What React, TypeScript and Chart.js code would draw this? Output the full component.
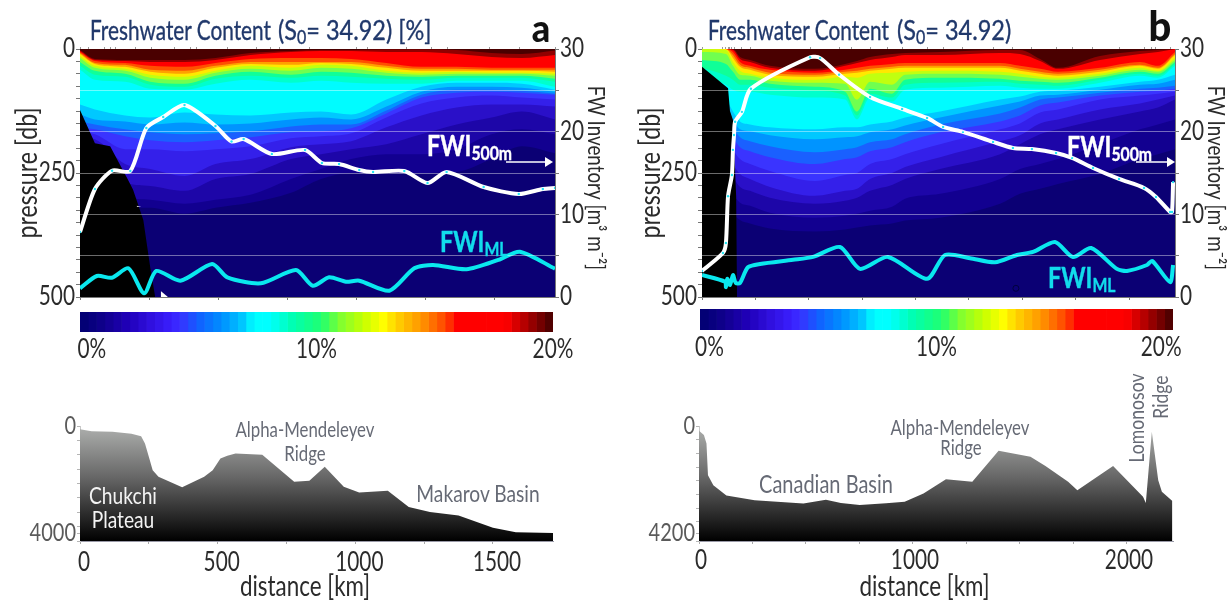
import React, { useEffect, useRef } from "react";
import { Chart, registerables } from "chart.js";

Chart.register(...registerables);

const FONT = "Lato,'Open Sans',sans-serif";
const NARROW = 0.8;
const TICK = "#2b2b2b";
const AXIS = "#777777";

/* ---------- panel a: stations, isopleth depths [db], FW inventories ---------- */
const aMaxKm = 1718;
const aStationsKm = [0, 54, 163, 254, 378, 490, 617, 763, 872, 981, 1108, 1235, 1362, 1489, 1598, 1718];
const aTopTicksKm = [0, 30, 90, 110, 130, 200, 260, 340, 400, 420, 535, 640, 690, 720, 830, 1000, 1040, 1180, 1270, 1330, 1480, 1590, 1718];
const aD1 = [2, 20, 22, 22, 22, 18, 8, 4, 2, 2, 1, 1, 2, 8, 10, 3];
const aD2 = [4, 22, 24, 26, 26, 22, 12, 6, 4, 4, 6, 6, 10, 16, 18, 12];
const aD3 = [6, 24, 28, 34, 36, 28, 20, 18, 18, 20, 28, 36, 36, 38, 38, 38];
const aD4 = [8, 28, 32, 42, 44, 34, 26, 26, 26, 26, 34, 40, 40, 42, 42, 42];
const aD5 = [10, 30, 36, 46, 50, 38, 30, 32, 28, 30, 38, 44, 44, 44, 44, 46];
const aD6 = [14, 34, 40, 52, 56, 44, 34, 38, 32, 34, 44, 48, 46, 48, 48, 50];
const aD7 = [18, 38, 44, 58, 62, 48, 40, 44, 38, 40, 48, 52, 50, 50, 50, 54];
const aD8 = [26, 44, 50, 66, 70, 54, 46, 52, 46, 48, 54, 56, 54, 54, 54, 60];
const aD9 = [34, 52, 56, 72, 76, 60, 54, 58, 54, 56, 60, 62, 58, 58, 58, 66];
const aD10 = [42, 62, 66, 80, 82, 70, 62, 68, 64, 68, 70, 70, 64, 64, 64, 76];
const aD11 = [112, 122, 134, 138, 128, 132, 134, 128, 126, 132, 102, 76, 68, 68, 70, 82];
const aD12 = [132, 142, 146, 152, 148, 152, 150, 142, 138, 142, 116, 86, 76, 76, 78, 86];
const aD13 = [146, 152, 162, 168, 172, 170, 166, 156, 152, 152, 124, 92, 82, 82, 84, 90];
const aD14 = [158, 162, 176, 184, 188, 184, 178, 168, 166, 160, 130, 98, 88, 86, 88, 92];
const aD15 = [168, 172, 202, 202, 206, 202, 196, 180, 176, 170, 138, 110, 98, 94, 98, 102];
const aD16 = [178, 182, 232, 242, 256, 232, 222, 198, 192, 186, 158, 134, 118, 112, 112, 116];
const aD17 = [182, 192, 268, 276, 286, 262, 252, 222, 212, 202, 192, 172, 152, 138, 126, 142];
const aD18 = [192, 202, 296, 304, 312, 304, 294, 262, 242, 222, 212, 212, 202, 172, 162, 172];
const aD19 = [202, 212, 320, 320, 332, 320, 310, 290, 262, 250, 250, 250, 248, 222, 196, 210];
const aTerrainKm = [0, 54, 109, 174, 192, 229, 254, 272];
const aTerrainDb = [123, 190, 196, 264, 284, 345, 440, 500];
const aFwi500Km = [0, 54, 116, 182, 240, 301, 378, 490, 548, 592, 694, 814, 875, 937, 1010, 1060, 1173, 1257, 1326, 1460, 1587, 1674, 1718];
const aFwi500 = [7.86, 13.07, 15.28, 15.24, 20.44, 21.77, 23.23, 20.69, 18.81, 19.11, 17.3, 17.78, 16.21, 16.09, 15.36, 15.12, 15.24, 13.79, 15.12, 13.31, 12.46, 13.07, 13.19];
const aFwiMlKm = [0, 61, 115, 175, 232, 276, 363, 478, 533, 654, 781, 842, 901, 962, 1010, 1119, 1209, 1277, 1398, 1513, 1591, 1718];
const aFwiMl = [1.05, 2.54, 2.33, 3.47, 0.45, 3.15, 1.97, 3.99, 2.38, 1.66, 3.27, 1.37, 2.38, 1.85, 1.97, 0.76, 3.47, 3.87, 3.35, 4.48, 5.48, 3.42];
const aBathyKm = [0, 42, 118, 187, 222, 236, 250, 264, 285, 326, 371, 451, 482, 510, 535, 565, 662, 778, 833, 889, 958, 1014, 1118, 1194, 1271, 1375, 1500, 1583, 1718];
const aBathyM = [116, 186, 198, 267, 360, 605, 1070, 1535, 1767, 1942, 2128, 1767, 1535, 1128, 1035, 953, 1000, 1942, 1907, 1419, 2116, 2314, 2256, 2814, 2988, 3116, 3535, 3698, 3721];

/* ---------- panel b ---------- */
const bMaxKm = 2215;
const bStationsKm = [0, 112, 145, 178, 225, 318, 529, 670, 726, 787, 890, 951, 1115, 1396, 1489, 1583, 1667, 1864, 2051, 2135, 2215];
const bTopTicksKm = [0, 98, 112, 122, 131, 140, 150, 187, 229, 506, 642, 700, 787, 870, 937, 1054, 1129, 1222, 1363, 1456, 1545, 1658, 1733, 1831, 1953, 2070, 2105, 2126, 2192];
const bD1 = [0, 0, 0, 16, 22, 34, 40, 30, 24, 16, 10, 8, 6, 2, 2, 20, 38, 14, 4, 2, 0];
const bD2 = [0, 0, 2, 20, 26, 38, 44, 34, 28, 22, 16, 12, 12, 8, 10, 24, 40, 22, 10, 6, 0];
const bD3 = [0, 0, 6, 26, 34, 42, 48, 42, 38, 34, 30, 28, 28, 28, 34, 40, 46, 38, 26, 34, 6];
const bD4 = [0, 0, 12, 32, 38, 48, 52, 46, 44, 40, 36, 34, 34, 34, 40, 46, 50, 42, 32, 38, 10];
const bD5 = [0, 0, 18, 36, 42, 52, 56, 50, 48, 44, 40, 38, 38, 38, 44, 50, 54, 46, 34, 40, 12];
const bD6 = [0, 2, 26, 44, 50, 58, 62, 56, 58, 50, 48, 46, 44, 46, 50, 56, 58, 50, 38, 44, 18];
const bD7 = [6, 10, 34, 52, 54, 64, 68, 70, 102, 66, 72, 52, 50, 52, 56, 60, 62, 54, 42, 46, 22];
const bD8 = [22, 30, 46, 62, 62, 70, 76, 86, 126, 80, 90, 62, 58, 60, 64, 66, 68, 58, 46, 50, 26];
const bD9 = [38, 54, 62, 72, 72, 78, 84, 94, 134, 90, 98, 72, 68, 66, 70, 72, 74, 62, 50, 54, 30];
const bD10 = [52, 72, 82, 86, 86, 92, 98, 102, 142, 98, 106, 82, 78, 74, 78, 80, 80, 68, 54, 58, 34];
const bD11 = [82, 102, 126, 146, 152, 158, 162, 158, 158, 152, 146, 138, 126, 102, 96, 86, 84, 76, 66, 62, 52];
const bD12 = [102, 118, 142, 162, 166, 174, 182, 178, 176, 168, 162, 154, 138, 114, 106, 94, 92, 82, 72, 70, 62];
const bD13 = [122, 132, 158, 178, 186, 196, 208, 202, 198, 188, 182, 172, 152, 130, 118, 102, 98, 88, 80, 78, 74];
const bD14 = [142, 152, 178, 198, 206, 218, 232, 222, 218, 206, 198, 188, 168, 146, 134, 114, 108, 94, 86, 84, 80];
const bD15 = [162, 172, 202, 222, 232, 246, 266, 254, 250, 232, 222, 212, 192, 162, 150, 128, 122, 102, 94, 90, 86];
const bD16 = [192, 202, 232, 252, 262, 278, 296, 286, 282, 262, 250, 238, 218, 186, 174, 150, 142, 122, 110, 102, 94];
const bD17 = [222, 232, 258, 278, 286, 300, 312, 306, 300, 286, 274, 262, 242, 212, 192, 172, 162, 142, 126, 118, 102];
const bD18 = [252, 262, 292, 310, 316, 330, 340, 336, 332, 326, 318, 302, 292, 262, 242, 232, 222, 192, 162, 152, 142];
const bD19 = [292, 302, 330, 345, 352, 362, 368, 364, 360, 356, 352, 346, 340, 312, 292, 282, 272, 252, 222, 212, 202];
const bTerrainKm = [0, 122, 131, 145, 160, 164];
const bTerrainDb = [36, 79, 125, 143, 298, 500];
const bFwi500Km = [0, 98, 112, 122, 140, 145, 150, 155, 187, 229, 506, 553, 642, 787, 937, 1054, 1129, 1222, 1363, 1456, 1545, 1658, 1733, 1831, 1953, 2070, 2126, 2192, 2201, 2206];
const bFwi500 = [3.15, 5.32, 6.53, 12.2, 14.76, 17.8, 19.6, 21.2, 22.4, 25.2, 29.0, 28.9, 26.9, 24.2, 22.75, 21.66, 20.57, 19.97, 18.76, 18.03, 17.9, 17.42, 16.82, 15.61, 14.28, 13.19, 12.1, 10.29, 10.29, 13.9];
const bFwiMlKm = [0, 108, 112, 118, 131, 145, 158, 178, 215, 272, 426, 520, 646, 740, 871, 1054, 1138, 1255, 1372, 1475, 1550, 1653, 1737, 1822, 1943, 1990, 2084, 2108, 2192, 2206];
const bFwiMl = [2.66, 1.85, 1.2, 2.2, 1.45, 2.66, 1.7, 1.7, 3.6, 4.0, 4.5, 4.85, 6.05, 3.4, 4.85, 2.2, 5.08, 4.7, 4.2, 5.08, 5.45, 6.66, 4.84, 5.93, 3.4, 3.15, 3.87, 4.36, 1.8, 3.87];
const bBathyKm = [0, 23, 35, 42, 67, 128, 260, 330, 488, 593, 663, 751, 874, 961, 1049, 1154, 1277, 1400, 1549, 1619, 1725, 1768, 1935, 2075, 2088, 2116, 2146, 2163, 2212];
const bBathyM = [171, 330, 635, 1795, 2161, 2540, 2710, 2747, 2833, 2698, 2808, 2881, 2820, 2771, 2466, 1941, 2039, 903, 1123, 1465, 2039, 2344, 1465, 2588, 2808, 208, 1978, 2405, 2735];

/* ---------- colours ---------- */
const bandColours = ["#4a0000", "#900000", "#ff0000", "#ff5000", "#ffa000", "#ffe800", "#c0ff10", "#70ff50", "#10ff98", "#00ffcc", "#00fcff", "#00c8ff", "#0094ff", "#1a60ff", "#3a34ff", "#3420ea", "#2a10c8", "#1d06a8", "#120090"];
const baseColour = "#0b0074";
const aDepths = [aD1, aD2, aD3, aD4, aD5, aD6, aD7, aD8, aD9, aD10, aD11, aD12, aD13, aD14, aD15, aD16, aD17, aD18, aD19];
const bDepths = [bD1, bD2, bD3, bD4, bD5, bD6, bD7, bD8, bD9, bD10, bD11, bD12, bD13, bD14, bD15, bD16, bD17, bD18, bD19];

const colourbarSteps = 57;
const colourStops: [number, string][] = [
  [0, "#000070"], [1, "#10008c"], [2, "#2000b8"], [3, "#3010e0"], [3.9, "#3a20ff"], [4.2, "#3a30ff"],
  [5, "#1060ff"], [6, "#0090ff"], [7, "#00d0ff"], [7.3, "#00ffff"], [8, "#00ffff"], [9, "#00ffb0"],
  [10.2, "#20ff70"], [11, "#80ff30"], [12, "#c8ff00"], [12.8, "#ffff00"], [13.4, "#ffd000"], [14.5, "#ff9000"],
  [15.5, "#ff4000"], [15.9, "#ff0000"], [18, "#ff0000"], [19, "#a00000"], [20, "#400000"],
];

function stopColour(v: number) {
  let i = 0;
  while (i < colourStops.length - 2 && colourStops[i + 1][0] < v) i++;
  const [v0, c0] = colourStops[i];
  const [v1, c1] = colourStops[i + 1];
  const t = Math.min(1, Math.max(0, (v - v0) / (v1 - v0)));
  const ch = (c: string, k: number) => parseInt(c.slice(1 + k * 2, 3 + k * 2), 16);
  const mix = (k: number) => Math.round(ch(c0, k) + (ch(c1, k) - ch(c0, k)) * t);
  return `rgb(${mix(0)},${mix(1)},${mix(2)})`;
}

const xy = (xs: number[], ys: number[]) => xs.map((x, i) => ({ x, y: ys[i] }));
const font = (size: number) => ({ family: FONT, size });

function section(opts: any) {
  const { maxKm, stations, depths, terrainKm, terrainDb, fwi500Km, fwi500, fwiMlKm, fwiMl, topTicks, extras, leftW, rightW, titlePadL, titlePadR } = opts;
  const overlay = [
    { data: xy(fwi500Km, fwi500), yAxisID: "yR", borderColor: "#ffffff", borderWidth: 4, tension: 0.25, pointRadius: 1.2, pointBackgroundColor: "#25e6f5", pointBorderWidth: 0, fill: false },
    { data: xy(fwiMlKm, fwiMl), yAxisID: "yR", borderColor: "#0ae8ee", borderWidth: 4, tension: 0.25, pointRadius: 0, fill: false },
    ...extras,
    { data: xy(terrainKm, terrainDb), yAxisID: "y", borderWidth: 0, pointRadius: 0, backgroundColor: "#000000", fill: { value: 500 } },
  ];
  const bands = depths.map((d: number[], i: number) => ({
    data: xy(stations, d), yAxisID: "y", borderWidth: 0, pointRadius: 0, cubicInterpolationMode: "monotone",
    backgroundColor: bandColours[i], fill: { value: 0 },
  }));
  const base = { data: xy([0, maxKm], [500, 500]), yAxisID: "y", borderWidth: 0, pointRadius: 0, backgroundColor: baseColour, fill: { value: 0 } };
  return {
    type: "line",
    data: { datasets: [...overlay, ...bands, base] },
    options: {
      responsive: false, animation: false, devicePixelRatio: 1,
      layout: { padding: 0 },
      plugins: { legend: { display: false }, tooltip: { enabled: false } },
      scales: {
        x: {
          type: "linear", position: "bottom", min: 0, max: maxKm,
          afterBuildTicks: (s: any) => { s.ticks = [0, 250, 500, 750, 1000, 1250, 1500, 1750, 2000].filter((v) => v <= maxKm).map((value) => ({ value })); },
          afterFit: (s: any) => { s.height = 24; },
          ticks: { display: false, autoSkip: false },
          grid: { drawOnChartArea: false, tickLength: 3, color: AXIS },
          border: { color: AXIS },
        },
        xTop: {
          type: "linear", axis: "x", position: "top", min: 0, max: maxKm,
          afterBuildTicks: (s: any) => { s.ticks = topTicks.map((value: number) => ({ value })); },
          afterFit: (s: any) => { s.height = 29; },
          ticks: { display: false, autoSkip: false },
          grid: { drawOnChartArea: false, tickLength: 2, color: "#999999" },
          border: { color: "#8a4040" },
        },
        y: {
          type: "linear", position: "left", reverse: true, min: 0, max: 500,
          afterFit: (s: any) => { s.width = leftW; },
          ticks: { stepSize: 25, autoSkip: false, padding: 1, color: TICK, font: font(26), callback: (v: number) => (v % 250 === 0 ? String(v) : "") },
          grid: { drawOnChartArea: false, tickLength: 4, color: AXIS },
          border: { color: AXIS },
          title: { display: true, text: "pressure [db]", color: TICK, font: font(29), padding: { top: titlePadL, bottom: 0 } },
        },
        yR: {
          type: "linear", axis: "y", position: "right", min: 0, max: 30,
          afterFit: (s: any) => { s.width = rightW; },
          ticks: { stepSize: 5, autoSkip: false, padding: 1, color: TICK, font: font(26), callback: (v: number) => (v % 10 === 0 ? String(v) : "") },
          grid: { z: 1, tickLength: 4, tickColor: AXIS, color: (c: any) => (c.tick && (c.tick.value === 0 || c.tick.value === 30) ? "rgba(0,0,0,0)" : "rgba(255,255,255,0.42)") },
          border: { color: AXIS, z: 1 },
          title: { display: true, text: "\u00A0\u00A0FW Inventory [m\u00B3 m\u207B\u00B2]", color: TICK, font: font(23.5), padding: { top: titlePadR, bottom: 0 } },
        },
      },
    },
  };
}

function colourbar(tickValues: number[], padL: number, padR: number, padT: number) {
  const step = 20 / colourbarSteps;
  const colours = Array.from({ length: colourbarSteps }, (_, i) => stopColour((i + 0.5) * step));
  return {
    type: "bar",
    data: {
      labels: ["FW"],
      datasets: colours.map((c) => ({ data: [step], backgroundColor: c, borderWidth: 0, barPercentage: 1, categoryPercentage: 1 })),
    },
    options: {
      indexAxis: "y", responsive: false, animation: false, devicePixelRatio: 1,
      layout: { padding: { left: padL, right: padR, top: padT, bottom: 0 } },
      plugins: { legend: { display: false }, tooltip: { enabled: false } },
      scales: {
        y: { display: false, stacked: true },
        x: {
          type: "linear", stacked: true, min: 0, max: 20,
          afterBuildTicks: (s: any) => { s.ticks = tickValues.map((value) => ({ value })); },
          afterFit: (s: any) => { s.height = 36; },
          ticks: { autoSkip: false, maxRotation: 0, padding: 2, color: TICK, font: font(26), callback: (v: number) => `${Math.round(v / 10) * 10}%` },
          grid: { display: false, drawTicks: false },
          border: { display: false },
        },
      },
    },
  };
}

function bathy(opts: any) {
  const { km, m, maxKm, maxM, ticks, yTicks, yLabelAt, padR, xTitle, titlePad, tickPad, labelOffset } = opts;
  return {
    type: "line",
    data: {
      datasets: [{
        data: xy(km, m), borderWidth: 0, pointRadius: 0, fill: { value: maxM },
        backgroundColor: (c: any) => {
          const area = c.chart.chartArea;
          if (!area) return "#555555";
          const g = c.chart.ctx.createLinearGradient(0, area.top, 0, area.bottom);
          g.addColorStop(0, "#aeb0ae");
          g.addColorStop(0.45, "#666666");
          g.addColorStop(1, "#000000");
          return g;
        },
      }],
    },
    options: {
      responsive: false, animation: false, devicePixelRatio: 1,
      layout: { padding: { top: 26, right: padR, left: 0, bottom: 0 } },
      plugins: { legend: { display: false }, tooltip: { enabled: false } },
      scales: {
        x: {
          type: "linear", min: 0, max: maxKm,
          afterBuildTicks: (s: any) => { s.ticks = ticks.map((value: number) => ({ value })); },
          afterFit: (s: any) => { s.height = 63; },
          ticks: { autoSkip: false, maxRotation: 0, padding: tickPad, labelOffset, color: TICK, font: font(26), callback: (v: number) => (v % opts.labelEvery === 0 ? String(v) : "") },
          grid: { drawOnChartArea: false, tickLength: 3, color: "#aaaaaa" },
          border: { color: "#9a9aa8" },
          title: { display: true, text: xTitle, color: TICK, font: font(28), padding: { top: titlePad, bottom: 0 } },
        },
        y: {
          type: "linear", reverse: true, min: 0, max: maxM,
          afterFit: (s: any) => { s.width = 80; },
          afterBuildTicks: (s: any) => { s.ticks = yTicks.map((value: number) => ({ value })); },
          ticks: { autoSkip: false, padding: 1, color: "#5a5a5a", font: font(25), callback: (v: number) => (v === 0 ? "0" : v === yLabelAt ? String(maxM) : "") },
          grid: { drawOnChartArea: false, tickLength: 3, color: "#b5b5b5" },
          border: { color: "#c8c8c8" },
        },
      },
    },
  };
}

function Plot({ make, left, top, width, height, blur }: any) {
  const ref = useRef<HTMLCanvasElement>(null);
  useEffect(() => {
    const canvas = ref.current as HTMLCanvasElement;
    const ctx: any = canvas.getContext("2d");
    // the reference uses a condensed face, and no condensed face is installed
    const fill = ctx.fillText.bind(ctx);
    ctx.fillText = (t: string, x: number, y: number) => {
      ctx.save();
      ctx.translate(x, y);
      ctx.scale(NARROW, 1);
      fill(t, 0, 0);
      ctx.restore();
    };
    const chart = new Chart(canvas as any, make());
    return () => chart.destroy();
  }, []);
  return <canvas ref={ref} width={width} height={height} style={{ position: "absolute", left, top, width, height, display: "block", filter: blur ? "blur(0.5px)" : undefined }} />;
}

function Text({ x, y, size = 26, color = TICK, weight = 400, stroke = 0, family = FONT, rotate = 0, sx = NARROW, anchor = "center", children }: any) {
  const tx = anchor === "center" ? "-50%" : "0";
  return (
    <div style={{ position: "absolute", left: x, top: y, fontFamily: family, fontSize: size, color, fontWeight: weight, WebkitTextStroke: stroke ? `${stroke}px ${color}` : undefined, whiteSpace: "nowrap", lineHeight: 1, transform: `translate(${tx},-50%) rotate(${rotate}deg) scaleX(${sx})`, transformOrigin: anchor === "center" ? "center" : "left center" }}>
      {children}
    </div>
  );
}

const subStyle: any = { fontSize: "0.68em", verticalAlign: "-0.22em", lineHeight: 0 };
const NAVY = "#20386b";
const GREY = "#666a75";
const CYAN = "#12dcec";

function Arrow({ x1, x2, y }: any) {
  return (
    <svg style={{ position: "absolute", left: x1, top: y - 6, width: x2 - x1, height: 12 }}>
      <line x1={0} y1={6} x2={x2 - x1 - 6} y2={6} stroke="#fff" strokeWidth={1.6} />
      <polygon points={`${x2 - x1 - 8},1 ${x2 - x1},6 ${x2 - x1 - 8},11`} fill="#fff" />
    </svg>
  );
}

const aExtras = [
  { data: xy([292, 292, 318], [500, 488, 500]), yAxisID: "y", borderWidth: 0, pointRadius: 0, backgroundColor: "#ffffff", fill: { value: 500 } },
  { data: xy([205, 205, 222], [304, 316, 318]), yAxisID: "y", borderWidth: 0, pointRadius: 0, backgroundColor: "#ffffff", fill: { value: 318 } },
];
const bExtras = [
  { data: xy([1470], [1.05]), yAxisID: "yR", showLine: false, pointRadius: 3, pointBackgroundColor: "rgba(0,0,0,0)", pointBorderColor: "#000040", pointBorderWidth: 1, fill: false },
];

export default function App() {
  return (
    <div style={{ position: "absolute", left: 0, top: 0, width: 1232, height: 604, overflow: "hidden", background: "#fff" }}>
      <Plot left={0} top={20} width={613} height={301} blur make={() => section({ maxKm: aMaxKm, stations: aStationsKm, depths: aDepths, terrainKm: aTerrainKm, terrainDb: aTerrainDb, fwi500Km: aFwi500Km, fwi500: aFwi500, fwiMlKm: aFwiMlKm, fwiMl: aFwiMl, topTicks: aTopTicksKm, extras: aExtras, leftW: 80, rightW: 58, titlePadL: 10, titlePadR: 3 })} />
      <Plot left={622} top={20} width={610} height={301} blur make={() => section({ maxKm: bMaxKm, stations: bStationsKm, depths: bDepths, terrainKm: bTerrainKm, terrainDb: bTerrainDb, fwi500Km: bFwi500Km, fwi500: bFwi500, fwiMlKm: bFwiMlKm, fwiMl: bFwiMl, topTicks: bTopTicksKm, extras: bExtras, leftW: 80, rightW: 57, titlePadL: 11, titlePadR: 2 })} />
      <Plot left={20} top={305} width={600} height={63} blur make={() => colourbar([0.5, 10, 20], 60, 67, 7)} />
      <Plot left={640} top={302} width={592} height={64} blur make={() => colourbar([0.4, 10, 19.5], 60, 59, 7)} />
      <Plot left={0} top={400} width={620} height={204} blur make={() => bathy({ km: aBathyKm, m: aBathyM, maxKm: aMaxKm, maxM: 4000, ticks: [0, 250, 500, 750, 1000, 1250, 1500], labelEvery: 500, yTicks: [0, 500, 1000, 1500, 2000, 2500, 3000, 3500, 3722, 4000], yLabelAt: 3722, padR: 67, xTitle: "distance [km]\u00A0\u00A0\u00A0\u00A0", titlePad: 0, tickPad: 3, labelOffset: 4 })} />
      <Plot left={619} top={400} width={613} height={204} blur make={() => bathy({ km: bBathyKm, m: bBathyM, maxKm: bMaxKm, maxM: 4200, ticks: [0, 250, 500, 750, 1000, 1250, 1500, 1750, 2000], labelEvery: 1000, yTicks: [0, 500, 1000, 1500, 2000, 2500, 3000, 3500, 3908, 4200], yLabelAt: 3908, padR: 59, xTitle: "distance [km]\u00A0\u00A0\u00A0\u00A0", titlePad: 6, tickPad: 1, labelOffset: 2 })} />

      <Text x={90} y={29} size={27} color={NAVY} stroke={0.35} sx={0.77} anchor="left">Freshwater Content</Text>
      <Text x={278} y={29} size={27} color={NAVY} stroke={0.35} sx={0.87} anchor="left">(S<span style={subStyle}>0</span>= 34.92)&nbsp;[%]</Text>
      <Text x={708} y={29} size={27} color={NAVY} stroke={0.35} sx={0.77} anchor="left">Freshwater Content</Text>
      <Text x={897} y={29} size={27} color={NAVY} stroke={0.35} sx={0.87} anchor="left">(S<span style={subStyle}>0</span>= 34.92)</Text>
      <Text x={541} y={27} size={38} weight={900} color="#111" sx={0.95}>a</Text>
      <Text x={1160} y={25} size={42} weight={900} color="#111" sx={0.95}>b</Text>

      <Text x={427} y={144} size={29} weight={700} stroke={0.4} color="#fff" anchor="left">FWI<span style={subStyle}>500m</span></Text>
      <Arrow x1={506} x2={553} y={162} />
      <Text x={440} y={240} size={29} weight={700} stroke={0.4} color={CYAN} anchor="left">FWI<span style={subStyle}>ML</span></Text>
      <Text x={1067} y={145} size={29} weight={700} stroke={0.4} color="#fff" anchor="left">FWI<span style={subStyle}>500m</span></Text>
      <Arrow x1={1136} x2={1175} y={162} />
      <Text x={1048} y={276} size={29} weight={700} stroke={0.4} color={CYAN} anchor="left">FWI<span style={subStyle}>ML</span></Text>

      <Text x={123} y={495} size={24} color="#f4f4f4">Chukchi</Text>
      <Text x={123} y={519} size={24} color="#f4f4f4">Plateau</Text>
      <Text x={305} y={428} size={21} color={GREY}>Alpha-Mendeleyev</Text>
      <Text x={305} y={452} size={21} color={GREY}>Ridge</Text>
      <Text x={478} y={493} size={24} color={GREY}>Makarov Basin</Text>
      <Text x={826} y={483} size={25} color={GREY}>Canadian Basin</Text>
      <Text x={960} y={426} size={21} color={GREY}>Alpha-Mendeleyev</Text>
      <Text x={961} y={446} size={21} color={GREY}>Ridge</Text>
      <Text x={1136} y={418} size={22} color={GREY} rotate={-90}>Lomonosov</Text>
      <Text x={1160} y={397} size={22} color={GREY} rotate={-90}>Ridge</Text>
    </div>
  );
}
